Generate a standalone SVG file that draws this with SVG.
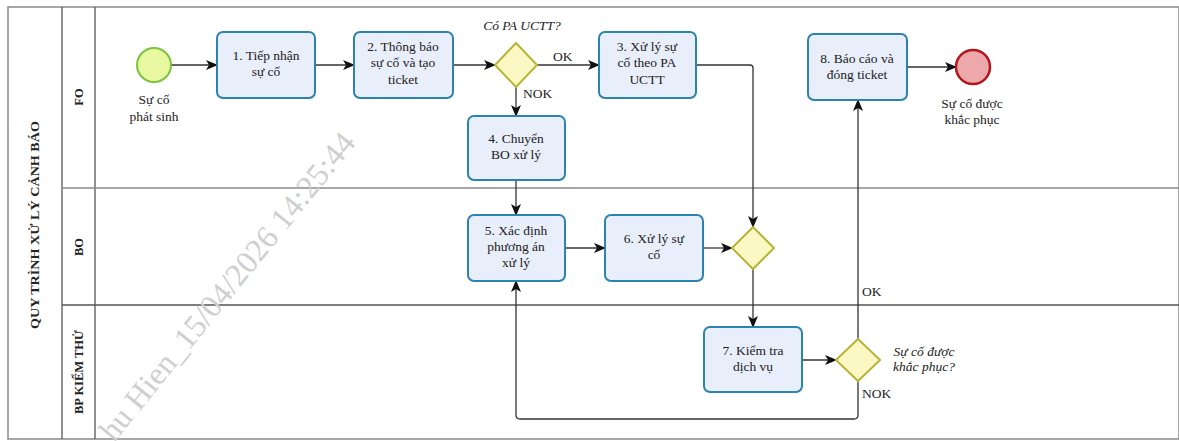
<svg xmlns="http://www.w3.org/2000/svg" width="1179" height="441" viewBox="0 0 1179 441">
  <style>
    .frame { fill: none; stroke: #8a8a8a; stroke-width: 1.5; }
    .hdr { stroke: #555; stroke-width: 1.3; }
    .lane { stroke: #8a8a8a; stroke-width: 1.5; }
    .task { fill: #e9eefb; stroke: #2b84ad; stroke-width: 2; }
    .gw { fill: #fbf8c4; stroke: #b7b43a; stroke-width: 2; }
    .start { fill: #e8f9a2; stroke: #7cc43c; stroke-width: 2; }
    .end { fill: #eda8ab; stroke: #b3171d; stroke-width: 2.5; }
    .flow { fill: none; stroke: #333; stroke-width: 1.3; marker-end: url(#arrow); }
    text { font-family: "Liberation Serif", "Times New Roman", serif; fill: #222; }
    .t { font-size: 13.5px; text-anchor: middle; }
    .lbl { font-size: 13.5px; }
    .q { font-size: 13.5px; font-style: italic; }
    .title { font-size: 12.5px; font-weight: bold; text-anchor: middle; }
    .wm { font-size: 32px; fill: #cfcfcf; }
  </style>
  <defs>
    <marker id="arrow" viewBox="0 0 12 12" refX="11" refY="6" markerWidth="12" markerHeight="12" markerUnits="userSpaceOnUse" orient="auto">
      <path d="M0,1 L12,6 L0,11 L3,6 Z" fill="#111"/>
    </marker>
  </defs>

  <rect width="1179" height="441" fill="#ffffff"/>

  <!-- pool and lanes -->
  <g id="pool">
    <rect class="frame" x="8" y="7" width="1171" height="432"/>
    <line class="hdr" x1="62" y1="7" x2="62" y2="439"/>
    <line class="hdr" x1="95" y1="7" x2="95" y2="439"/>
    <line class="lane" x1="62" y1="188" x2="1179" y2="188"/>
    <line class="hdr" x1="62" y1="305" x2="1179" y2="305"/>
    <text class="title" transform="translate(39,225) rotate(-90)" textLength="208" lengthAdjust="spacingAndGlyphs">QUY TRÌNH XỬ LÝ CẢNH BÁO</text>
    <text class="title" transform="translate(83,97) rotate(-90)">FO</text>
    <text class="title" transform="translate(83,247) rotate(-90)">BO</text>
    <text class="title" transform="translate(83,372) rotate(-90)">BP KIỂM THỬ</text>
  </g>

  <!-- diagonal stamp -->
  <text class="wm" transform="translate(114,443) rotate(-51)">hu Hien_15/04/2026 14:25:44</text>

  <!-- sequence flows -->
  <g id="connectors">
    <path class="flow" d="M171,65 H217"/>
    <path class="flow" d="M315,65 H354"/>
    <path class="flow" d="M453,65 H495"/>
    <path class="flow" d="M537,65 H599"/>
    <path class="flow" d="M516,87 V116"/>
    <path class="flow" d="M696,65 H750 Q753,65 753,68 V227"/>
    <path class="flow" d="M516,180 V215"/>
    <path class="flow" d="M565,248 H605"/>
    <path class="flow" d="M703,248 H732"/>
    <path class="flow" d="M753,269 V327"/>
    <path class="flow" d="M802,360 H836"/>
    <path class="flow" d="M858,339 V100"/>
    <path class="flow" d="M858,381 V415 Q858,419 854,419 H520 Q516,419 516,415 V281"/>
    <path class="flow" d="M907,67 H956"/>
    <text class="lbl" x="553" y="61">OK</text>
    <text class="lbl" x="523" y="98">NOK</text>
    <text class="lbl" x="862" y="296">OK</text>
    <text class="lbl" x="862" y="398">NOK</text>
  </g>

  <g id="start">
    <circle class="start" cx="154" cy="65" r="17"/>
    <text class="t" x="154" y="104">Sự cố</text>
    <text class="t" x="154" y="121">phát sinh</text>
  </g>

  <g id="task1">
    <rect class="task" x="217" y="32" width="98" height="66" rx="6"/>
    <text class="t" x="266" y="60">1. Tiếp nhận</text>
    <text class="t" x="266" y="76">sự cố</text>
  </g>

  <g id="task2">
    <rect class="task" x="354" y="32" width="99" height="66" rx="6"/>
    <text class="t" x="403" y="51">2. Thông báo</text>
    <text class="t" x="403" y="67">sự cố và tạo</text>
    <text class="t" x="403" y="84">ticket</text>
  </g>

  <g id="gateway1">
    <polygon class="gw" points="516,43 537,65 516,87 495,65"/>
    <text class="q" x="522" y="30" text-anchor="middle">Có PA UCTT?</text>
  </g>

  <g id="task3">
    <rect class="task" x="599" y="32" width="97" height="66" rx="6"/>
    <text class="t" x="647" y="51">3. Xử lý sự</text>
    <text class="t" x="647" y="67">cố theo PA</text>
    <text class="t" x="647" y="84">UCTT</text>
  </g>

  <g id="task4">
    <rect class="task" x="468" y="116" width="97" height="64" rx="6"/>
    <text class="t" x="516" y="143">4. Chuyển</text>
    <text class="t" x="516" y="159">BO xử lý</text>
  </g>

  <g id="task5">
    <rect class="task" x="468" y="215" width="97" height="66" rx="6"/>
    <text class="t" x="516" y="235">5. Xác định</text>
    <text class="t" x="516" y="251">phương án</text>
    <text class="t" x="516" y="267">xử lý</text>
  </g>

  <g id="task6">
    <rect class="task" x="605" y="215" width="98" height="66" rx="6"/>
    <text class="t" x="654" y="243">6. Xử lý sự</text>
    <text class="t" x="654" y="259">cố</text>
  </g>

  <g id="gateway2">
    <polygon class="gw" points="753,227 774,248 753,269 732,248"/>
  </g>

  <g id="task7">
    <rect class="task" x="704" y="327" width="98" height="65" rx="6"/>
    <text class="t" x="753" y="355">7. Kiểm tra</text>
    <text class="t" x="753" y="371">dịch vụ</text>
  </g>

  <g id="gateway3">
    <polygon class="gw" points="858,339 880,360 858,381 836,360"/>
    <text class="q" x="924" y="356" text-anchor="middle">Sự cố được</text>
    <text class="q" x="924" y="371" text-anchor="middle">khắc phục?</text>
  </g>

  <g id="task8">
    <rect class="task" x="808" y="34" width="99" height="66" rx="6"/>
    <text class="t" x="857" y="63">8. Báo cáo và</text>
    <text class="t" x="857" y="79">đóng ticket</text>
  </g>

  <g id="end">
    <circle class="end" cx="973" cy="67" r="17"/>
    <text class="t" x="972" y="108">Sự cố được</text>
    <text class="t" x="972" y="124">khắc phục</text>
  </g>
</svg>
